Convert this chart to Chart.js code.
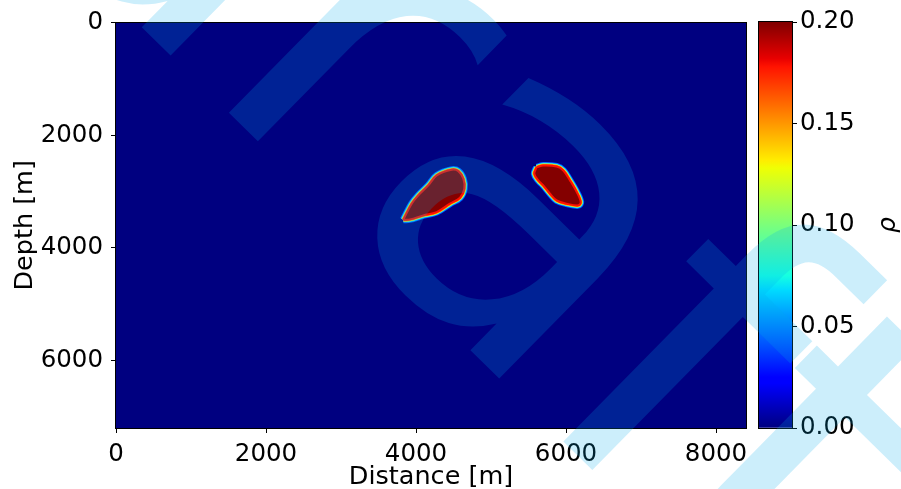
<!DOCTYPE html>
<html>
<head>
<meta charset="utf-8">
<script src="https://cdn.jsdelivr.net/npm/chart.js"></script>
<style>
  html, body { margin: 0; padding: 0; background: #fff; }
  #wrap { position: relative; width: 901px; height: 489px; overflow: hidden; }
  #mainChart { position: absolute; left: 0; top: 0; }
  #barChart { position: absolute; left: 747px; top: 0; }
</style>
</head>
<body>
<div id="wrap">
  <canvas id="mainChart" width="760" height="489"></canvas>
  <canvas id="barChart" width="154" height="489"></canvas>
</div>
<script>
// model extent and ticks
const xExtent = [0, 8400];
const yExtent = [0, 7200];
const xTicks = [0, 2000, 4000, 6000, 8000];
const yTicks = [0, 2000, 4000, 6000];
const cbTicks = [0, 0.05, 0.10, 0.15, 0.20];
const cbRange = [0, 0.2];

// outlines of the two anomalies (distance, depth in m)
const leftBodyX = [3831, 3943, 4031, 4164, 4276, 4476, 4564, 4631, 4644, 4587, 4453, 4276, 4097, 3920];
const leftBodyY = [3499, 3215, 3068, 2891, 2713, 2612, 2637, 2772, 2949, 3109, 3215, 3364, 3423, 3494];
const rightBodyX = [5609, 5697, 5876, 5964, 6053, 6143, 6196, 6164, 6009, 5876, 5787, 5697, 5631, 5577];
const rightBodyY = [2566, 2536, 2554, 2625, 2802, 3009, 3187, 3245, 3215, 3157, 3038, 2891, 2802, 2683];

const FONT = '"DejaVu Sans", Verdana, sans-serif';

const jetStops = [
  [0, '#000080'], [0.11, '#0000ff'], [0.125, '#0000ff'], [0.34, '#00dbff'],
  [0.375, '#15ffe2'], [0.5, '#7bff7b'], [0.64, '#efff04'], [0.66, '#ffec00'],
  [0.89, '#ff1300'], [0.91, '#e80000'], [1, '#800000']
];

function toPoints(xs, ys) {
  const p = xs.map((x, i) => ({x: x, y: ys[i]}));
  p.push(p[0]);
  return p;
}

// faint "draft" overlay spanning both canvases; clipW limits it to this canvas' share
function drawWatermark(ctx, dx, clipW) {
  ctx.save();
  ctx.beginPath();
  ctx.rect(0, 0, clipW, 489);
  ctx.clip();
  ctx.translate(-dx, 0);
  ctx.translate(-4, -116);
  ctx.rotate(44.5 * Math.PI / 180);
  ctx.font = '450px ' + FONT;
  ctx.fillStyle = 'rgba(0, 170, 235, 0.2)';
  ctx.textBaseline = 'alphabetic';
  ctx.fillText('draft', 0, 0);
  ctx.restore();
}

const framePlugin = {
  id: 'frame',
  afterDatasetsDraw(chart) {
    const a = chart.chartArea, ctx = chart.ctx;
    ctx.save();
    ctx.strokeStyle = '#000';
    ctx.lineWidth = 1;
    ctx.strokeRect(Math.round(a.left) - 0.5, Math.round(a.top) - 0.5,
      Math.round(a.right - a.left) + 1, Math.round(a.bottom - a.top) + 1);
    ctx.restore();
  }
};

function glowLayers(points) {
  const layers = [
    ['#0050ff', 7, false, 6],
    ['#00d8ff', 5.4, false, 5],
    ['#f0ff20', 4, false, 4],
    ['#ff7000', 3, false, 3],
    ['#ff1000', 2, '#840000', 2]
  ];
  return layers.map(([col, w, fillCol, ord]) => ({
    data: points,
    showLine: true,
    borderColor: col,
    borderWidth: w,
    backgroundColor: fillCol || 'transparent',
    fill: fillCol ? 'shape' : false,
    tension: 0.35,
    pointRadius: 0,
    order: ord
  }));
}

const bgPoints = [
  {x: xExtent[0], y: yExtent[0]}, {x: xExtent[1], y: yExtent[0]},
  {x: xExtent[1], y: yExtent[1]}, {x: xExtent[0], y: yExtent[1]}, {x: xExtent[0], y: yExtent[0]}
];

const datasets = [
  {data: bgPoints, showLine: true, borderWidth: 0, borderColor: '#000080',
   backgroundColor: '#000080', fill: 'shape', pointRadius: 0, tension: 0, order: 10}
].concat(glowLayers(toPoints(leftBodyX, leftBodyY)), glowLayers(toPoints(rightBodyX, rightBodyY)));

const tickFont = {family: FONT, size: 24.5};
const titleFont = {family: FONT, size: 25.5};

new Chart(document.getElementById('mainChart'), {
  type: 'scatter',
  data: {datasets: datasets},
  options: {
    responsive: false,
    animation: false,
    devicePixelRatio: 1,
    layout: {padding: {top: 22, right: 14, left: 0, bottom: 0}},
    plugins: {legend: {display: false}, tooltip: {enabled: false}},
    scales: {
      x: {
        type: 'linear', min: xExtent[0], max: xExtent[1],
        afterBuildTicks: s => { s.ticks = xTicks.map(v => ({value: v})); },
        afterFit: s => { s.height = 61; },
        ticks: {color: '#000', font: tickFont, padding: 7, maxRotation: 0, callback: v => String(v)},
        grid: {drawOnChartArea: false, drawTicks: true, tickLength: 5, color: '#000'},
        border: {display: false},
        title: {display: true, text: 'Distance [m]', color: '#000', font: titleFont, padding: {top: 0, bottom: -4}}
      },
      y: {
        type: 'linear', reverse: true, min: yExtent[0], max: yExtent[1],
        afterBuildTicks: s => { s.ticks = yTicks.map(v => ({value: v})); },
        afterFit: s => { s.width = 116; },
        ticks: {color: '#000', font: tickFont, padding: 8, callback: v => String(v)},
        grid: {drawOnChartArea: false, drawTicks: true, tickLength: 5, color: '#000'},
        border: {display: false},
        title: {display: true, text: 'Depth [m]', color: '#000', font: titleFont, padding: {top: 10, bottom: 0}}
      }
    }
  },
  plugins: [framePlugin, {id: 'wm', afterDraw(chart) { drawWatermark(chart.ctx, 0, 747); }}]
});

new Chart(document.getElementById('barChart'), {
  type: 'bar',
  data: {
    labels: [''],
    datasets: [{
      data: [cbRange[1]],
      base: cbRange[0],
      barPercentage: 1,
      categoryPercentage: 1,
      borderWidth: 0,
      backgroundColor: c => {
        const area = c.chart.chartArea;
        if (!area) return '#000080';
        const g = c.chart.ctx.createLinearGradient(0, area.bottom, 0, area.top);
        jetStops.forEach(([t, col]) => g.addColorStop(t, col));
        return g;
      }
    }]
  },
  options: {
    responsive: false,
    animation: false,
    devicePixelRatio: 1,
    layout: {padding: {top: 22, right: 0, left: 12, bottom: 61}},
    plugins: {legend: {display: false}, tooltip: {enabled: false}},
    scales: {
      x: {display: false},
      y: {
        position: 'right', min: cbRange[0], max: cbRange[1],
        afterBuildTicks: s => { s.ticks = cbTicks.map(v => ({value: v})); },
        afterFit: s => { s.width = 109; },
        ticks: {color: '#000', font: tickFont, padding: 3, callback: v => v.toFixed(2)},
        grid: {drawOnChartArea: false, drawTicks: true, tickLength: 5, color: '#000'},
        border: {display: false}
      }
    }
  },
  plugins: [framePlugin, {
    id: 'cbLabel',
    afterDraw(chart) {
      const ctx = chart.ctx, a = chart.chartArea;
      ctx.save();
      ctx.translate(141, (a.top + a.bottom) / 2);
      ctx.rotate(-Math.PI / 2);
      ctx.font = 'italic 25px ' + FONT;
      ctx.fillStyle = '#000';
      ctx.textAlign = 'center';
      ctx.textBaseline = 'middle';
      ctx.fillText('ρ', 0, 0);
      ctx.restore();
      drawWatermark(ctx, 747, 154);
    }
  }]
});
</script>
</body>
</html>
